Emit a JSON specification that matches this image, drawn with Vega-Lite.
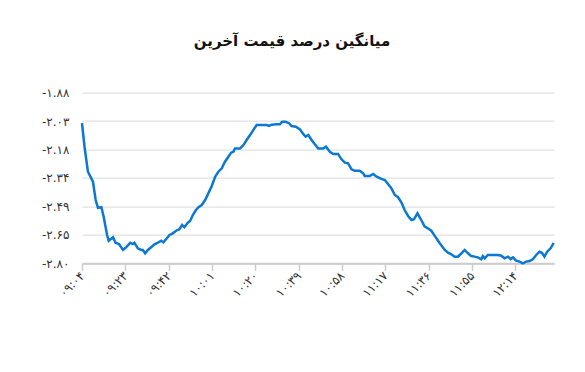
{
  "$schema": "https://vega.github.io/schema/vega-lite/v6.json",
  "autosize": {"type": "none"},
  "width": 472,
  "height": 170.7,
  "padding": {"left": 82, "top": 92.6, "right": 31, "bottom": 108.7},
  "background": "white",
  "title": {
    "text": "میانگین درصد قیمت آخرین",
    "font": "DejaVu Sans",
    "fontSize": 15,
    "fontWeight": "bold",
    "color": "#111111",
    "anchor": "middle",
    "frame": "group",
    "dx": -26,
    "offset": 38
  },
  "config": {
    "view": {"stroke": null},
    "axis": {"labelFont": "DejaVu Sans", "labelFontSize": 12, "labelColor": "#333333"}
  },
  "data": {
    "values": [
      {"t": 0, "v": -2.042}, {"t": 1.1, "v": -2.169}, {"t": 2.6, "v": -2.304}, {"t": 4.1, "v": -2.34},
      {"t": 4.8, "v": -2.358}, {"t": 6.0, "v": -2.457}, {"t": 7.0, "v": -2.499}, {"t": 8.5, "v": -2.496},
      {"t": 9.5, "v": -2.547}, {"t": 11.0, "v": -2.646}, {"t": 11.7, "v": -2.677}, {"t": 13.6, "v": -2.658},
      {"t": 14.7, "v": -2.688}, {"t": 16.2, "v": -2.695}, {"t": 18.0, "v": -2.727}, {"t": 19.4, "v": -2.712},
      {"t": 21.2, "v": -2.688}, {"t": 22.3, "v": -2.695}, {"t": 23.0, "v": -2.688}, {"t": 24.5, "v": -2.718},
      {"t": 26.0, "v": -2.727}, {"t": 26.7, "v": -2.727}, {"t": 27.7, "v": -2.745}, {"t": 28.9, "v": -2.727},
      {"t": 30.3, "v": -2.712}, {"t": 31.8, "v": -2.696}, {"t": 33.3, "v": -2.688}, {"t": 34.7, "v": -2.677},
      {"t": 35.7, "v": -2.686}, {"t": 37.2, "v": -2.664}, {"t": 38.4, "v": -2.646}, {"t": 39.8, "v": -2.637},
      {"t": 41.3, "v": -2.623}, {"t": 42.7, "v": -2.615}, {"t": 43.9, "v": -2.592}, {"t": 44.9, "v": -2.604},
      {"t": 46.4, "v": -2.58}, {"t": 47.4, "v": -2.57}, {"t": 48.6, "v": -2.538}, {"t": 50.0, "v": -2.511},
      {"t": 51.1, "v": -2.496}, {"t": 52.5, "v": -2.484}, {"t": 54.0, "v": -2.457}, {"t": 55.4, "v": -2.421},
      {"t": 56.9, "v": -2.381}, {"t": 58.4, "v": -2.331}, {"t": 59.8, "v": -2.304}, {"t": 61.3, "v": -2.286},
      {"t": 62.7, "v": -2.25}, {"t": 64.2, "v": -2.223}, {"t": 65.4, "v": -2.201}, {"t": 66.4, "v": -2.196},
      {"t": 67.1, "v": -2.178}, {"t": 69.3, "v": -2.178}, {"t": 70.8, "v": -2.16}, {"t": 72.2, "v": -2.133},
      {"t": 73.7, "v": -2.106}, {"t": 75.1, "v": -2.079}, {"t": 76.6, "v": -2.052}, {"t": 78.8, "v": -2.052},
      {"t": 81.0, "v": -2.052}, {"t": 82.0, "v": -2.057}, {"t": 83.2, "v": -2.05}, {"t": 85.4, "v": -2.048},
      {"t": 86.8, "v": -2.048}, {"t": 87.8, "v": -2.034}, {"t": 89.3, "v": -2.034}, {"t": 90.8, "v": -2.042},
      {"t": 91.9, "v": -2.057}, {"t": 93.8, "v": -2.061}, {"t": 95.6, "v": -2.075}, {"t": 97.0, "v": -2.1},
      {"t": 98.1, "v": -2.115}, {"t": 99.2, "v": -2.106}, {"t": 100.7, "v": -2.133}, {"t": 102.1, "v": -2.156},
      {"t": 103.6, "v": -2.178}, {"t": 105.8, "v": -2.178}, {"t": 107.0, "v": -2.169}, {"t": 108.7, "v": -2.196},
      {"t": 110.2, "v": -2.208}, {"t": 112.3, "v": -2.208}, {"t": 113.8, "v": -2.237}, {"t": 115.3, "v": -2.255},
      {"t": 116.7, "v": -2.259}, {"t": 118.2, "v": -2.291}, {"t": 119.7, "v": -2.299}, {"t": 121.8, "v": -2.299},
      {"t": 123.3, "v": -2.313}, {"t": 124.0, "v": -2.327}, {"t": 126.2, "v": -2.327}, {"t": 127.7, "v": -2.316},
      {"t": 129.2, "v": -2.331}, {"t": 131.3, "v": -2.343}, {"t": 132.8, "v": -2.349}, {"t": 134.2, "v": -2.37},
      {"t": 135.7, "v": -2.394}, {"t": 137.2, "v": -2.43}, {"t": 138.6, "v": -2.442}, {"t": 140.1, "v": -2.471},
      {"t": 141.5, "v": -2.511}, {"t": 143.0, "v": -2.543}, {"t": 144.5, "v": -2.565}, {"t": 145.6, "v": -2.561},
      {"t": 147.1, "v": -2.529}, {"t": 148.6, "v": -2.561}, {"t": 150.3, "v": -2.601}, {"t": 151.7, "v": -2.61},
      {"t": 153.2, "v": -2.623}, {"t": 154.7, "v": -2.651}, {"t": 156.9, "v": -2.691}, {"t": 159.1, "v": -2.727},
      {"t": 160.5, "v": -2.742}, {"t": 162.0, "v": -2.75}, {"t": 163.4, "v": -2.763}, {"t": 164.9, "v": -2.763},
      {"t": 166.4, "v": -2.745}, {"t": 167.8, "v": -2.727}, {"t": 169.3, "v": -2.745}, {"t": 170.7, "v": -2.76},
      {"t": 172.2, "v": -2.763}, {"t": 173.6, "v": -2.767}, {"t": 175.1, "v": -2.777}, {"t": 175.8, "v": -2.76},
      {"t": 176.6, "v": -2.772}, {"t": 178.0, "v": -2.754}, {"t": 180.2, "v": -2.754}, {"t": 182.4, "v": -2.754},
      {"t": 183.9, "v": -2.758}, {"t": 185.3, "v": -2.772}, {"t": 186.8, "v": -2.763}, {"t": 188.0, "v": -2.776},
      {"t": 189.0, "v": -2.767}, {"t": 190.4, "v": -2.785}, {"t": 191.9, "v": -2.79}, {"t": 193.3, "v": -2.799},
      {"t": 194.8, "v": -2.79}, {"t": 196.3, "v": -2.787}, {"t": 197.7, "v": -2.777}, {"t": 199.2, "v": -2.754},
      {"t": 200.6, "v": -2.736}, {"t": 201.7, "v": -2.742}, {"t": 202.8, "v": -2.763}, {"t": 204.0, "v": -2.736},
      {"t": 205.5, "v": -2.718}, {"t": 206.9, "v": -2.688}
    ]
  },
  "mark": {"type": "line", "color": "#0b78d4", "strokeWidth": 2.5, "interpolate": "linear"},
  "encoding": {
    "x": {
      "field": "t",
      "type": "quantitative",
      "scale": {"domain": [0, 207], "nice": false, "zero": false},
      "axis": {
        "title": null,
        "values": [0, 19, 38, 57, 76, 95, 114, 133, 152, 171, 190],
        "labelExpr": "['۰۹:۰۴','۰۹:۲۳','۰۹:۴۲','۱۰:۰۱','۱۰:۲۰','۱۰:۳۹','۱۰:۵۸','۱۱:۱۷','۱۱:۳۶','۱۱:۵۵','۱۲:۱۴'][round(datum.value/19)]",
        "labelAngle": -45,
        "labelAlign": "right",
        "labelBaseline": "middle",
        "labelPadding": 3,
        "grid": false,
        "domainColor": "#cccccc",
        "domainWidth": 2,
        "tickColor": "#cccccc",
        "tickSize": 7,
        "tickWidth": 1.5
      }
    },
    "y": {
      "field": "v",
      "type": "quantitative",
      "scale": {"domain": [-2.799, -1.8765], "nice": false, "zero": false},
      "axis": {
        "title": null,
        "values": [-2.799, -2.64525, -2.4915, -2.33775, -2.184, -2.03025, -1.8765],
        "labelExpr": "['-۲.۸۰','-۲.۶۵','-۲.۴۹','-۲.۳۴','-۲.۱۸','-۲.۰۳','-۱.۸۸'][round((datum.value+2.799)/0.15375)]",
        "domain": false,
        "ticks": false,
        "labelPadding": 13,
        "gridColor": "#d9d9d9",
        "gridWidth": 1
      }
    }
  }
}
